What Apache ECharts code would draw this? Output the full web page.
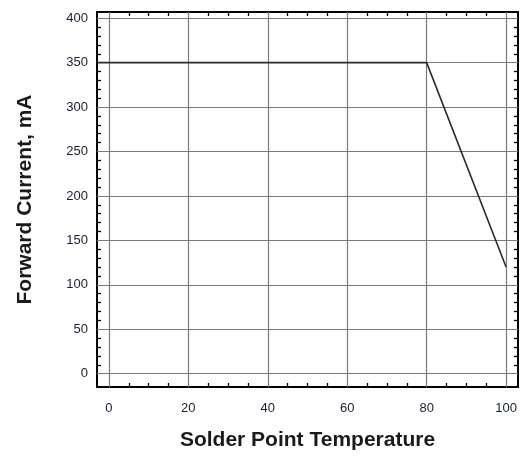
<!DOCTYPE html>
<html>
<head>
<meta charset="utf-8">
<script src="https://cdn.jsdelivr.net/npm/echarts@6/dist/echarts.min.js"></script>
<style>
html,body{margin:0;padding:0;background:#fff;}
#c{width:526px;height:456px;}
</style>
</head>
<body>
<div id="c"></div>
<script>
// Data
const temperature = [-3, 80, 100];
const forwardCurrent = [350, 350, 120];

// Tick labels / tick positions
const xMajor = [0, 20, 40, 60, 80, 100];
const xMinor = [5, 10, 15, 25, 30, 35, 45, 50, 55, 65, 70, 75, 85, 90, 95];
const yMajor = [0, 50, 100, 150, 200, 250, 300, 350, 400];
const yMinor = [10, 20, 30, 40, 60, 70, 80, 90, 110, 120, 130, 140, 160, 170, 180, 190,
  210, 220, 230, 240, 260, 270, 280, 290, 310, 320, 330, 340, 360, 370, 380, 390];

const X_MIN = -3, X_MAX = 103, Y_MIN = -15, Y_MAX = 407;
const GRID = {left: 97, right: 8, top: 12, bottom: 69};
const plotW = 526 - GRID.left - GRID.right;
const plotH = 456 - GRID.top - GRID.bottom;
const gridColor = '#7a7a7a';
const labelColor = '#1c1c34';
const font = 'Liberation Sans, Arial, sans-serif';

function minorAxis(pos, vals, min, max) {
  return {
    type: 'value', position: pos, min: min, max: max,
    axisLine: {show: false, onZero: false},
    axisTick: {show: true, inside: true, length: 4, customValues: vals,
      lineStyle: {color: '#000', width: 1.3}},
    axisLabel: {show: false},
    splitLine: {show: false}
  };
}

const chart = echarts.init(document.getElementById('c'), null, {renderer: 'canvas'});
chart.setOption({
  animation: false,
  backgroundColor: '#fff',
  grid: {left: GRID.left, right: GRID.right, top: GRID.top, bottom: GRID.bottom,
    show: true, borderColor: '#000', borderWidth: 2, backgroundColor: 'transparent'},
  xAxis: [
    {
      type: 'value', position: 'bottom', min: X_MIN, max: X_MAX,
      axisLine: {show: false, onZero: false},
      axisTick: {show: true, inside: true, length: plotH, customValues: xMajor,
        lineStyle: {color: gridColor, width: 1.2}},
      axisLabel: {show: true, customValues: xMajor, margin: 15, color: labelColor,
        fontSize: 13, fontFamily: font},
      splitLine: {show: false},
      name: 'Solder Point Temperature', nameLocation: 'middle', nameGap: 43,
      nameTextStyle: {fontSize: 21, fontWeight: 'bold', color: '#1a1a1a', fontFamily: font}
    },
    minorAxis('bottom', xMinor, X_MIN, X_MAX),
    minorAxis('top', xMinor, X_MIN, X_MAX)
  ],
  yAxis: [
    {
      type: 'value', position: 'left', min: Y_MIN, max: Y_MAX,
      axisLine: {show: false, onZero: false},
      axisTick: {show: true, inside: true, length: plotW, customValues: yMajor,
        lineStyle: {color: gridColor, width: 1.2}},
      axisLabel: {show: true, customValues: yMajor, margin: 9, color: labelColor,
        fontSize: 13, fontFamily: font},
      splitLine: {show: false},
      name: 'Forward Current, mA', nameLocation: 'middle', nameGap: 61,
      nameTextStyle: {fontSize: 21, fontWeight: 'bold', color: '#1a1a1a', fontFamily: font}
    },
    minorAxis('left', yMinor, Y_MIN, Y_MAX),
    minorAxis('right', yMinor, Y_MIN, Y_MAX)
  ],
  series: [{
    type: 'line',
    xAxisIndex: 0, yAxisIndex: 0,
    data: temperature.map((t, i) => [t, forwardCurrent[i]]),
    showSymbol: false,
    symbol: 'none',
    lineStyle: {color: '#2b2b2b', width: 1.6},
    z: 5
  }]
});
</script>
</body>
</html>
